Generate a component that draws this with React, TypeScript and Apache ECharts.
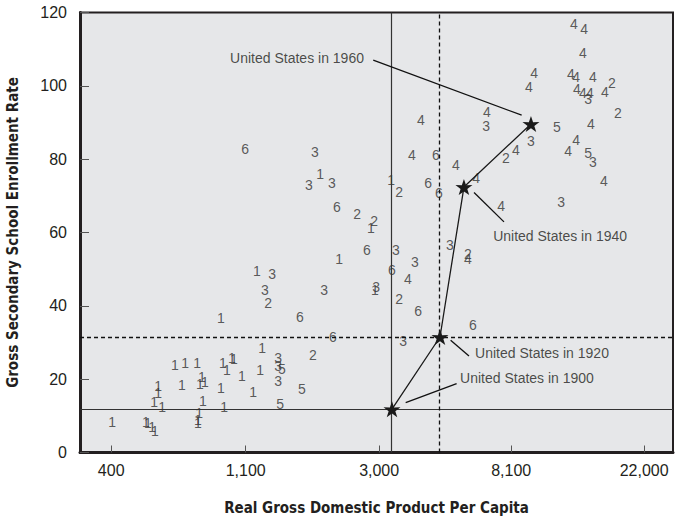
import React, { useEffect, useRef } from "react";
import * as echarts from "echarts";

// Country group codes (1–6) plotted as digits
const countryCodes = [
  6, 3, 1, 3, 3, 6, 2, 2, 1, 1, 2, 6, 3, 3, 6, 4, 1, 3, 2, 6, 3, 6, 3, 2, 4, 1, 3, 1, 3, 3,
  2, 6, 1, 6, 1, 2, 3, 3, 5, 3, 5, 5, 1, 1, 1, 1, 1, 1, 1, 1, 1, 1, 1, 1, 1, 1, 1, 1, 1, 1,
  1, 1, 1, 1, 1, 1, 1, 1, 1, 1, 1, 4, 4, 4, 4, 4, 4, 4, 4, 2, 4, 4, 4, 3, 4, 2, 4, 5, 4, 3,
  4, 3, 4, 4, 5, 3, 4, 2, 4, 6, 4, 4, 6, 6, 4, 4, 3,
];
// Natural log of real GDP per capita
const countryLogGdp = [
  6.998, 7.524, 7.562, 7.479, 7.652, 7.689, 7.84, 7.968, 7.945, 8.096, 8.156, 7.915, 8.133, 8.276, 8.103,
  8.223, 7.975, 7.983, 8.156, 8.299, 8.186, 8.712, 8.539, 8.674, 8.674, 7.705, 7.592, 7.088, 7.201, 7.148,
  7.171, 7.411, 6.817, 7.659, 7.126, 7.509, 7.246, 7.246, 7.276, 7.246, 7.426, 7.261, 6.471, 6.547, 6.637,
  6.832, 6.862, 6.9, 6.915, 6.975, 7.111, 6.524, 6.674, 6.659, 6.697, 6.817, 7.058, 6.344, 6.344, 6.314,
  6.374, 6.682, 6.84, 6.652, 6.644, 6.644, 5.998, 6.253, 6.268, 6.299, 6.321, 9.471, 9.547, 9.539, 9.171,
  9.133, 9.449, 9.487, 9.614, 9.757, 9.494, 9.539, 9.592, 9.577, 9.704, 9.802, 9.599, 9.343, 8.817, 8.81,
  8.321, 9.148, 9.487, 9.427, 9.577, 9.614, 9.035, 8.96, 8.253, 8.434, 8.584, 8.735, 8.374, 8.456, 9.697,
  8.923, 9.374,
];
// Gross secondary school enrollment rate
const countryEnrollment = [
  82.7, 81.9, 75.9, 72.9, 73.5, 66.9, 65.0, 63.1, 61.2, 74.3, 71.0, 55.2, 55.2, 51.9, 49.7,
  47.3, 44.3, 45.1, 41.8, 38.5, 30.4, 34.7, 56.5, 54.1, 52.7, 52.7, 44.3, 49.5, 48.6, 44.3,
  40.7, 36.9, 36.6, 31.5, 28.5, 26.5, 25.7, 23.5, 22.7, 19.4, 17.3, 13.2, 23.8, 24.4, 24.4,
  24.4, 22.4, 25.7, 25.5, 20.8, 22.4, 18.4, 20.5, 18.6, 19.2, 17.5, 16.4, 18.1, 16.2, 13.7,
  12.4, 14.0, 12.4, 10.7, 8.8, 8.0, 8.3, 8.3, 8.0, 6.9, 5.8, 116.8, 115.5, 108.9, 103.5,
  99.6, 103.2, 102.4, 102.4, 100.7, 99.1, 98.0, 98.0, 96.4, 98.3, 92.6, 89.6, 88.7, 92.8, 89.0,
  90.6, 84.9, 85.2, 82.2, 81.6, 79.2, 82.5, 80.3, 81.1, 81.1, 78.4, 74.8, 73.5, 70.7, 74.0,
  67.2, 68.3,
];

// United States trajectory
const usYears = [1900, 1920, 1940, 1960];
const usLogGdp = [8.103, 8.464, 8.644, 9.148];
const usEnrollment = [11.8, 31.5, 72.4, 89.6];

// Axis ticks
const xTickDollars = [400, 1100, 3000, 8100, 22000];
const yTicks = [0, 20, 40, 60, 80, 100, 120];

const STAR =
  "path://M50,0 L61.8,35.1 L97.6,34.5 L68.8,56 L79.4,90.5 L50,69.6 L20.6,90.5 L31.2,56 L2.4,34.5 L38.2,35.1 Z";
const FONT = "'Liberation Sans', Arial, Helvetica, sans-serif";
const NARROW = "'Liberation Sans Narrow', 'DejaVu Sans Condensed', 'Liberation Sans', sans-serif";
const INK = "#231f20";

// annotation layout per US year (label centre, leader start, leader end) in data units
const annotations: Record<number, { text: number[]; from: number[]; to: number[] }> = {
  1960: { text: [7.389, 107.6], from: [7.962, 107.0], to: [9.078, 92.0] },
  1940: { text: [9.367, 59.0], from: [8.72, 70.9], to: [8.945, 62.9] },
  1920: { text: [9.231, 27.1], from: [8.544, 30.6], to: [8.682, 26.3] },
  1900: { text: [9.118, 20.3], from: [8.206, 13.6], to: [8.589, 18.8] },
};

function buildOption() {
  const xTickLogs = xTickDollars.map((d) => Math.log(d));
  const countryData = countryCodes.map((c, i) => [countryLogGdp[i], countryEnrollment[i], c]);
  const usData = usYears.map((_, i) => [usLogGdp[i], usEnrollment[i]]);
  const annData = usYears.map((yr) => {
    const a = annotations[yr];
    return [a.text[0], a.text[1], `United States in ${yr}`];
  });
  const solid = { type: "solid", color: "#333", width: 1.2 };
  const dashed = { type: [4, 3], color: "#111", width: 1.3 };
  const leader = { type: "solid", color: "#111", width: 1.3 };
  const textLabel = (size: number, color: string) => ({
    show: true,
    position: "inside",
    formatter: (p: any) => String(p.data[2]),
    fontFamily: FONT,
    fontSize: size,
    color,
    textBorderWidth: 0,
    textBorderColor: "transparent",
    textShadowBlur: 0,
  });
  return {
    animation: false,
    grid: {
      left: 80,
      right: 5,
      top: 12.5,
      bottom: 65.5,
      outerBoundsMode: "none",
      containLabel: false,
      show: true,
      backgroundColor: "#e6e7e9",
      borderColor: INK,
      borderWidth: 2,
    },
    xAxis: {
      type: "value",
      min: 5.757,
      max: 10.216,
      name: "Real Gross Domestic Product Per Capita",
      nameLocation: "middle",
      nameGap: 48,
      nameTextStyle: { fontFamily: NARROW, fontWeight: "bold", fontSize: 15, color: INK },
      axisLine: { show: true, lineStyle: { color: INK, width: 3 } },
      axisTick: {
        show: true,
        inside: true,
        length: 7,
        lineStyle: { color: "#555", width: 1 },
        customValues: xTickLogs,
      },
      axisLabel: {
        fontFamily: FONT,
        fontSize: 16,
        color: INK,
        margin: 10,
        customValues: xTickLogs,
        formatter: (v: number) => {
          const idx = xTickLogs.findIndex((t) => Math.abs(t - v) < 1e-6);
          return idx >= 0 ? xTickDollars[idx].toLocaleString("en-US") : "";
        },
      },
      splitLine: { show: false },
    },
    yAxis: {
      type: "value",
      min: yTicks[0],
      max: yTicks[yTicks.length - 1],
      interval: 20,
      name: "Gross Secondary School Enrollment Rate",
      nameLocation: "middle",
      nameGap: 60,
      nameRotate: 90,
      nameTextStyle: { fontFamily: NARROW, fontWeight: "bold", fontSize: 15, color: INK },
      axisLine: { show: true, lineStyle: { color: INK, width: 3 } },
      axisTick: { show: true, inside: true, length: 9, lineStyle: { color: "#555", width: 1 } },
      axisLabel: { fontFamily: FONT, fontSize: 16, color: INK, margin: 13 },
      splitLine: { show: false },
    },
    series: [
      {
        type: "scatter",
        name: "countries",
        data: countryData,
        symbolSize: 1,
        itemStyle: { color: "rgba(0,0,0,0)" },
        silent: true,
        z: 3,
        label: textLabel(14, "#333"),
        markLine: {
          silent: true,
          symbol: "none",
          animation: false,
          label: { show: false },
          data: [
            { xAxis: usLogGdp[0], lineStyle: solid },
            { yAxis: usEnrollment[0], lineStyle: solid },
            { xAxis: usLogGdp[1], lineStyle: dashed },
            { yAxis: usEnrollment[1], lineStyle: dashed },
            ...usYears.map((yr) => [
              { coord: annotations[yr].from, lineStyle: leader },
              { coord: annotations[yr].to, lineStyle: leader },
            ]),
          ],
        },
      },
      {
        type: "line",
        name: "United States",
        data: usData,
        symbol: STAR,
        symbolSize: 17,
        symbolKeepAspect: true,
        showAllSymbol: true,
        itemStyle: { color: "#1a1a1a" },
        lineStyle: { color: "#1a1a1a", width: 1.3 },
        silent: true,
        z: 5,
      },
      {
        type: "scatter",
        name: "annotations",
        data: annData,
        symbolSize: 1,
        itemStyle: { color: "rgba(0,0,0,0)" },
        silent: true,
        z: 6,
        label: textLabel(14, INK),
      },
    ],
  };
}

export default function App() {
  const ref = useRef<HTMLDivElement>(null);
  useEffect(() => {
    if (!ref.current) return;
    const chart = echarts.init(ref.current, null, { renderer: "svg" });
    chart.setOption(buildOption() as any);
    return () => chart.dispose();
  }, []);
  return (
    <div
      ref={ref}
      style={{ position: "fixed", left: 0, top: 0, width: 678, height: 518, background: "#ffffff" }}
    />
  );
}
